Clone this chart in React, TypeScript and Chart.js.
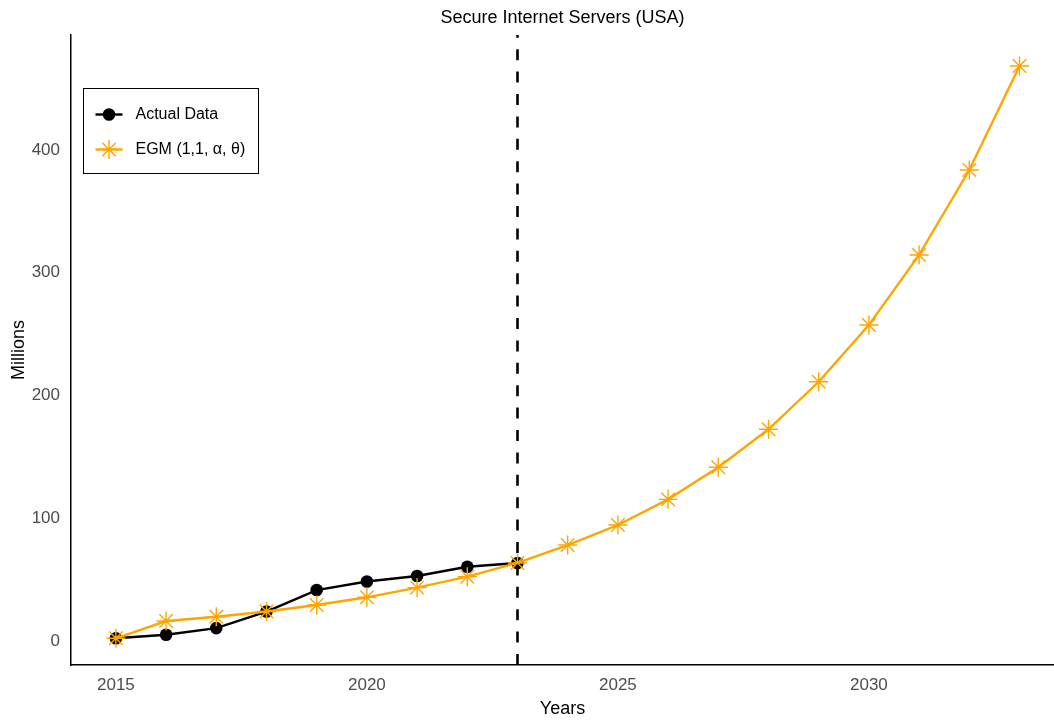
import React, { useEffect, useRef } from 'react';
import { Chart, registerables } from 'chart.js';

Chart.register(...registerables);

const FONT = '"Liberation Sans", Arial, sans-serif';

const chartTitle = 'Secure Internet Servers (USA)';
const xTitle = 'Years';
const yTitle = 'Millions';
const seriesLabels = ['Actual Data', 'EGM (1,1, α, θ)'];

const actualYears = [2015, 2016, 2017, 2018, 2019, 2020, 2021, 2022, 2023];
const actualValues = [2.2, 5.1, 10.5, 24, 41.5, 48.5, 53, 60.5, 63.6];

const egmYears = [2015, 2016, 2017, 2018, 2019, 2020, 2021, 2022, 2023, 2024, 2025, 2026, 2027, 2028, 2029, 2030, 2031, 2032, 2033];
const egmValues = [2.2, 16.3, 19.8, 24, 29.3, 35.6, 43.5, 52.4, 63.6, 78.2, 94.5, 115.4, 141.5, 172.5, 211.2, 257.4, 314.5, 383.7, 468.4];

const xTicks = [2015, 2020, 2025, 2030];
const yTicks = [0, 100, 200, 300, 400];
const forecastStart = 2023;

const xMin = 2014.106;
const xMax = 2033.687;
const yMin = -19.55;
const yMax = 493.7;

const ORANGE = '#FFA500';
const W = 1054;
const H = 722;

const vlinePlugin = {
  id: 'vline',
  afterDatasetsDraw(chart: any) {
    const { ctx, chartArea, scales } = chart;
    const x = scales.x.getPixelForValue(forecastStart);
    ctx.save();
    ctx.beginPath();
    ctx.rect(chartArea.left, chartArea.top, chartArea.right - chartArea.left, chartArea.bottom - chartArea.top);
    ctx.clip();
    ctx.strokeStyle = '#000';
    ctx.lineWidth = 2.6;
    ctx.setLineDash([11, 11.4]);
    ctx.beginPath();
    ctx.moveTo(x, chartArea.bottom);
    ctx.lineTo(x, chartArea.top);
    ctx.stroke();
    ctx.restore();
  },
};

const legendPlugin = {
  id: 'boxLegend',
  afterDraw(chart: any) {
    const { ctx, chartArea } = chart;
    const bx = Math.round(chartArea.left + 12) + 0.5;
    const by = Math.round(chartArea.top + 53) + 0.5;
    const w = 175;
    const h = 85;
    ctx.save();
    ctx.fillStyle = '#fff';
    ctx.fillRect(bx, by, w, h);
    ctx.strokeStyle = '#000';
    ctx.lineWidth = 1;
    ctx.strokeRect(bx, by, w, h);

    const sx0 = bx + 12;
    const sx1 = bx + 39;
    const cx = (sx0 + sx1) / 2;
    const y1 = by + 26;
    const y2 = by + 61;

    // Actual Data
    ctx.strokeStyle = '#000';
    ctx.lineWidth = 2.4;
    ctx.beginPath();
    ctx.moveTo(sx0, y1);
    ctx.lineTo(sx1, y1);
    ctx.stroke();
    ctx.fillStyle = '#000';
    ctx.beginPath();
    ctx.arc(cx, y1, 6.3, 0, Math.PI * 2);
    ctx.fill();

    // EGM
    ctx.strokeStyle = ORANGE;
    ctx.lineWidth = 2.4;
    ctx.beginPath();
    ctx.moveTo(sx0, y2);
    ctx.lineTo(sx1, y2);
    ctx.stroke();
    ctx.lineWidth = 1.4;
    const r = 9.5;
    ctx.beginPath();
    for (let k = 0; k < 4; k++) {
      const a = (k * Math.PI) / 4;
      ctx.moveTo(cx - Math.cos(a) * r, y2 - Math.sin(a) * r);
      ctx.lineTo(cx + Math.cos(a) * r, y2 + Math.sin(a) * r);
    }
    ctx.stroke();

    ctx.fillStyle = '#000';
    ctx.font = `16px ${FONT}`;
    ctx.textAlign = 'left';
    ctx.textBaseline = 'middle';
    ctx.fillText(seriesLabels[0], bx + 52, y1);
    ctx.fillText(seriesLabels[1], bx + 52, y2);
    ctx.restore();
  },
};

export default function App() {
  const ref = useRef<HTMLCanvasElement>(null);

  useEffect(() => {
    document.body.style.margin = '0';
    const canvas = ref.current;
    if (!canvas) return;
    const chart = new Chart(canvas, {
      type: 'line',
      data: {
        datasets: [
          {
            label: seriesLabels[1],
            data: egmYears.map((yr, i) => ({ x: yr, y: egmValues[i] })),
            borderColor: ORANGE,
            backgroundColor: ORANGE,
            borderWidth: 2.4,
            pointStyle: 'star',
            pointRadius: 9.5,
            pointBorderWidth: 1.4,
            pointBorderColor: ORANGE,
            pointBackgroundColor: ORANGE,
            tension: 0,
            order: 0,
          },
          {
            label: seriesLabels[0],
            data: actualYears.map((yr, i) => ({ x: yr, y: actualValues[i] })),
            borderColor: '#000',
            backgroundColor: '#000',
            borderWidth: 2.4,
            pointStyle: 'circle',
            pointRadius: 6.3,
            pointBorderWidth: 0,
            pointBackgroundColor: '#000',
            tension: 0,
            order: 1,
          },
        ],
      },
      options: {
        animation: false,
        responsive: false,
        events: [],
        layout: { padding: 0, autoPadding: false },
        plugins: {
          legend: { display: false },
          tooltip: { enabled: false },
          title: {
            display: true,
            text: chartTitle,
            color: '#000',
            fullSize: false,
            font: { family: FONT, size: 18, weight: 'normal' },
            padding: { top: 7, bottom: 6.4 },
          },
        },
        scales: {
          x: {
            type: 'linear',
            min: xMin,
            max: xMax,
            grid: { display: false, drawTicks: false },
            border: { display: true, color: '#000', width: 1.5 },
            ticks: {
              color: '#4d4d4d',
              font: { family: FONT, size: 17 },
              padding: 10,
              autoSkip: false,
              maxRotation: 0,
              callback: (v: any) => String(v),
            },
            afterBuildTicks: (s: any) => {
              s.ticks = xTicks.map((v) => ({ value: v }));
            },
            afterFit: (s: any) => {
              s.height = 57;
              s.paddingLeft = 0;
              s.paddingRight = 0;
            },
            title: {
              display: true,
              text: xTitle,
              color: '#000',
              font: { family: FONT, size: 18 },
              padding: { top: 0, bottom: 2.2 },
            },
          },
          y: {
            type: 'linear',
            min: yMin,
            max: yMax,
            grid: { display: false, drawTicks: false },
            border: { display: true, color: '#000', width: 1.5 },
            ticks: {
              color: '#4d4d4d',
              font: { family: FONT, size: 17 },
              padding: 11,
              callback: (v: any) => String(v),
            },
            afterBuildTicks: (s: any) => {
              s.ticks = yTicks.map((v) => ({ value: v }));
            },
            afterFit: (s: any) => {
              s.width = 71;
              s.paddingTop = 0;
              s.paddingBottom = 0;
            },
            title: {
              display: true,
              text: yTitle,
              color: '#000',
              font: { family: FONT, size: 18 },
              padding: { top: 8, bottom: 0 },
            },
          },
        },
      },
      plugins: [vlinePlugin, legendPlugin],
    });
    return () => chart.destroy();
  }, []);

  return (
    <div style={{ width: W, height: H }}>
      <canvas ref={ref} width={W} height={H} style={{ display: 'block' }} />
    </div>
  );
}
